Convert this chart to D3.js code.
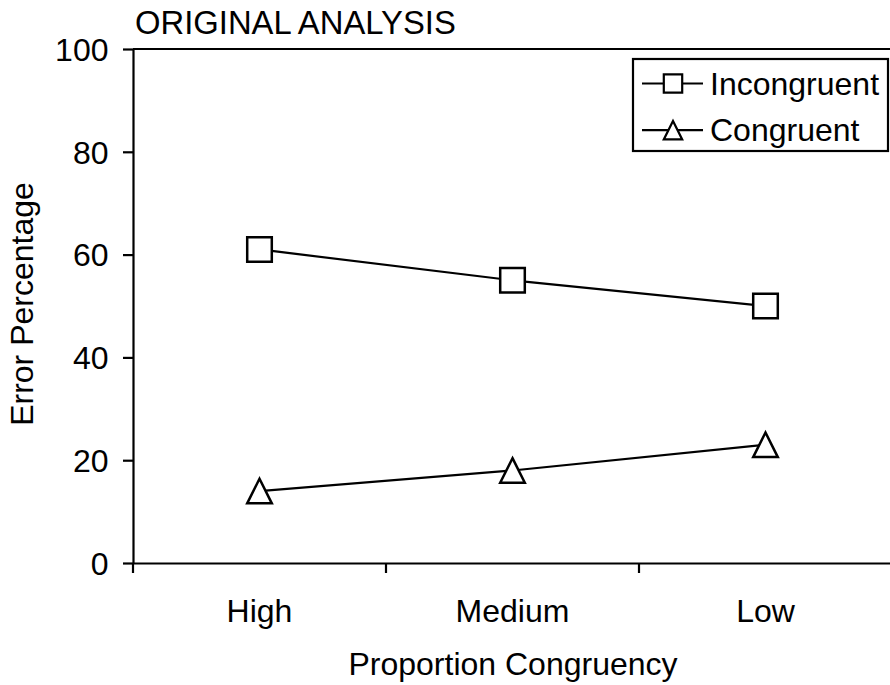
<!DOCTYPE html>
<html>
<head>
<meta charset="utf-8">
<script src="https://cdn.jsdelivr.net/npm/d3@7"></script>
<style>
  body { margin: 0; background: #fff; }
  svg { display: block; font-family: "Liberation Sans", Arial, Helvetica, sans-serif; }
  .axis path, .axis line { stroke: #000; stroke-width: 2.2; }
  .axis text { fill: #000; font-size: 32px; }
</style>
</head>
<body>
<svg width="890" height="685"></svg>
<script>
const categories = ["High", "Medium", "Low"];
const incongruent = [61, 55, 50];
const congruent = [14, 18, 23];
const yTicks = [0, 20, 40, 60, 80, 100];
const seriesNames = ["Incongruent", "Congruent"];

const svg = d3.select("svg");
const fontSize = 32;

const x = d3.scaleBand().domain(categories).range([133, 892]);
const y = d3.scaleLinear().domain([0, 100]).range([563, 49]);

// top frame line
svg.append("line")
  .attr("x1", 133).attr("x2", 892)
  .attr("y1", y(100)).attr("y2", y(100))
  .attr("stroke", "#000").attr("stroke-width", 2.2);

// y axis
const yAxis = svg.append("g")
  .attr("class", "axis")
  .attr("transform", "translate(133,0)")
  .call(d3.axisLeft(y).tickValues(yTicks).tickSize(10).tickSizeOuter(0).tickPadding(14.5));
yAxis.selectAll("text").attr("dy", "0.35em");

// x axis: labels centred on bands, ticks on band edges
const xAxis = svg.append("g")
  .attr("class", "axis")
  .attr("transform", "translate(0," + y(0) + ")")
  .call(d3.axisBottom(x).tickSize(0).tickSizeOuter(0).tickPadding(0));
xAxis.selectAll("text").attr("y", 59).attr("dy", null);

xAxis.selectAll(".edge")
  .data(categories)
  .join("line")
  .attr("class", "edge")
  .attr("x1", d => x(d)).attr("x2", d => x(d))
  .attr("y1", 0).attr("y2", 10);

// titles
svg.append("text")
  .attr("x", 135).attr("y", 34)
  .attr("font-size", 32.8)
  .text("ORIGINAL ANALYSIS");

svg.append("text")
  .attr("transform", "rotate(-90)")
  .attr("x", -(y(0) + y(100)) / 2 + 2)
  .attr("y", 33)
  .attr("text-anchor", "middle")
  .attr("font-size", fontSize)
  .text("Error Percentage");

svg.append("text")
  .attr("x", 513).attr("y", 675)
  .attr("text-anchor", "middle")
  .attr("font-size", fontSize)
  .text("Proportion Congruency");

// series
const cx = d => x(d) + x.bandwidth() / 2;
const line = d3.line().x(d => cx(d.cat)).y(d => y(d.v));

const square = s => "M" + (-s) + "," + (-s) + "H" + s + "V" + s + "H" + (-s) + "Z";
const triangle = s => "M0," + (-s) + "L" + s + "," + s + "L" + (-s) + "," + s + "Z";

const series = [
  { name: seriesNames[0], values: incongruent, shape: square },
  { name: seriesNames[1], values: congruent, shape: triangle }
];

series.forEach(function (s) {
  const pts = categories.map((c, i) => ({ cat: c, v: s.values[i] }));
  svg.append("path")
    .datum(pts)
    .attr("d", line)
    .attr("fill", "none")
    .attr("stroke", "#000")
    .attr("stroke-width", 2.2);
  svg.append("g").selectAll("path")
    .data(pts)
    .join("path")
    .attr("transform", d => "translate(" + cx(d.cat) + "," + y(d.v) + ")")
    .attr("d", s.shape(12.3))
    .attr("fill", "#fff")
    .attr("stroke", "#000")
    .attr("stroke-width", 2.5);
});

// legend
const legend = svg.append("g").attr("transform", "translate(633,59)");
legend.append("rect")
  .attr("width", 255).attr("height", 92)
  .attr("fill", "#fff")
  .attr("stroke", "#000").attr("stroke-width", 2.2);

const item = legend.selectAll(".item")
  .data(series)
  .join("g")
  .attr("class", "item")
  .attr("transform", (d, i) => "translate(0," + (24.5 + i * 46.7) + ")");
item.append("line")
  .attr("x1", 9).attr("x2", 70)
  .attr("stroke", "#000").attr("stroke-width", 2.2);
item.append("path")
  .attr("transform", "translate(40,0)")
  .attr("d", d => d.shape(9.2))
  .attr("fill", "#fff")
  .attr("stroke", "#000").attr("stroke-width", 2.2);
item.append("text")
  .attr("x", 77).attr("dy", "0.35em")
  .attr("font-size", fontSize)
  .text(d => d.name);
</script>
</body>
</html>
